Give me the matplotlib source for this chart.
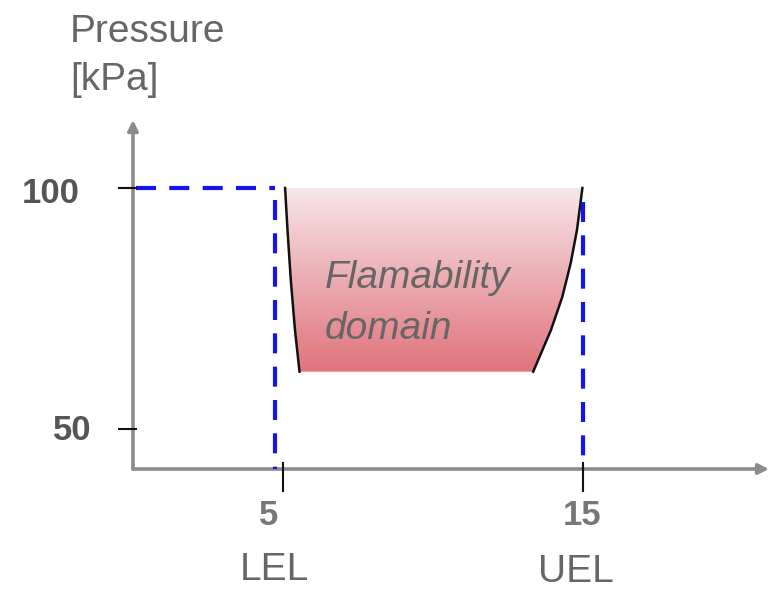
import numpy as np
import matplotlib
matplotlib.use('Agg')
import matplotlib.pyplot as plt
from matplotlib.colors import LinearSegmentedColormap
from matplotlib.patches import Polygon

plt.rcParams['font.family'] = ['Liberation Sans', 'DejaVu Sans']

# schematic values
y_ticks = [50, 100]
x_ticks = [5, 15]
lel, uel = 4.75, 15.0
p_top, p_bottom = 100, 61.9
x_axis_y = 41.7

# boundary curves of the flammable region (pressure vs concentration)
left_y = [100, 91.3, 80.9, 70.5, 61.9]
left_x = [5.07, 5.15, 5.26, 5.40, 5.55]
right_y = [100, 91.3, 84.4, 77.4, 70.5, 61.9]
right_x = [14.98, 14.80, 14.59, 14.31, 13.93, 13.34]

fig = plt.figure(figsize=(7.69, 5.90), dpi=100)
ax = fig.add_axes([0, 0, 1, 1])
ax.set_xlim(-4.433, 21.2)
ax.set_ylim(16.6, 139.0)
ax.axis('off')

# gradient fill clipped to the domain
poly_pts = list(zip(left_x, left_y)) + list(zip(right_x[::-1], right_y[::-1]))
poly = Polygon(poly_pts, closed=True, facecolor='none', edgecolor='none')
ax.add_patch(poly)
cmap = LinearSegmentedColormap.from_list('flam', ['#f7e6e8', '#e0737b'])
grad = np.linspace(0, 1, 256).reshape(-1, 1)
im = ax.imshow(grad, cmap=cmap, aspect='auto', origin='upper',
               extent=[min(left_x), max(right_x), p_bottom, p_top], zorder=1)
im.set_clip_path(poly)

ax.plot(left_x, left_y, color='#111111', lw=1.8, zorder=3, solid_joinstyle='round')
ax.plot(right_x, right_y, color='#111111', lw=1.8, zorder=3, solid_joinstyle='round')

# blue dashed limits
dash = dict(color='#1414f0', lw=3, dashes=(4.8, 3.2), zorder=4)
ax.plot([0.1, lel], [100, 100], **dash)
ax.plot([lel, lel], [97.5, x_axis_y], **dash)
ax.plot([uel, uel], [97, x_axis_y], **dash)

# axes with arrows
axis_col = '#8c8c8c'
ax.annotate('', xy=(21.2, x_axis_y), xytext=(0, x_axis_y),
            arrowprops=dict(arrowstyle='-|>,head_length=0.6,head_width=0.3',
                            color=axis_col, lw=2.6, shrinkA=0, shrinkB=0), zorder=2)
ax.annotate('', xy=(0, 114.1), xytext=(0, x_axis_y),
            arrowprops=dict(arrowstyle='-|>,head_length=0.6,head_width=0.3',
                            color=axis_col, lw=2.6, shrinkA=0, shrinkB=0), zorder=2)

# tick marks
for yt in y_ticks:
    ax.plot([-0.45, 0.1], [yt, yt], color='#111111', lw=1.5, zorder=5)
for xt in x_ticks:
    ax.plot([xt, xt], [x_axis_y + 1.2, 37.2], color='#111111', lw=1.5, zorder=5)

# labels
ax.text(-2.1, 130.3, 'Pressure', fontsize=28, color='#666666', ha='left', va='baseline')
ax.text(-2.1, 120.3, '[kPa]', fontsize=28, color='#666666', ha='left', va='baseline')
ax.text(-2.73, 96.9, '100', fontsize=25, fontweight='bold', color='#555555', ha='center', va='baseline')
ax.text(-2.02, 47.7, '50', fontsize=25, fontweight='bold', color='#555555', ha='center', va='baseline')
ax.text(4.53, 30.1, '5', fontsize=25, fontweight='bold', color='#777777', ha='center', va='baseline')
ax.text(14.97, 30.1, '15', fontsize=25, fontweight='bold', color='#777777', ha='center', va='baseline')
ax.text(4.7, 18.6, 'LEL', fontsize=28, color='#666666', ha='center', va='baseline')
ax.text(14.77, 18.2, 'UEL', fontsize=28, color='#666666', ha='center', va='baseline')
ax.text(6.4, 79.2, 'Flamability', fontsize=28, style='italic', color='#666666', ha='left', va='baseline', zorder=6)
ax.text(6.4, 68.6, 'domain', fontsize=28, style='italic', color='#666666', ha='left', va='baseline', zorder=6)

plt.savefig('out.png', dpi=100)
